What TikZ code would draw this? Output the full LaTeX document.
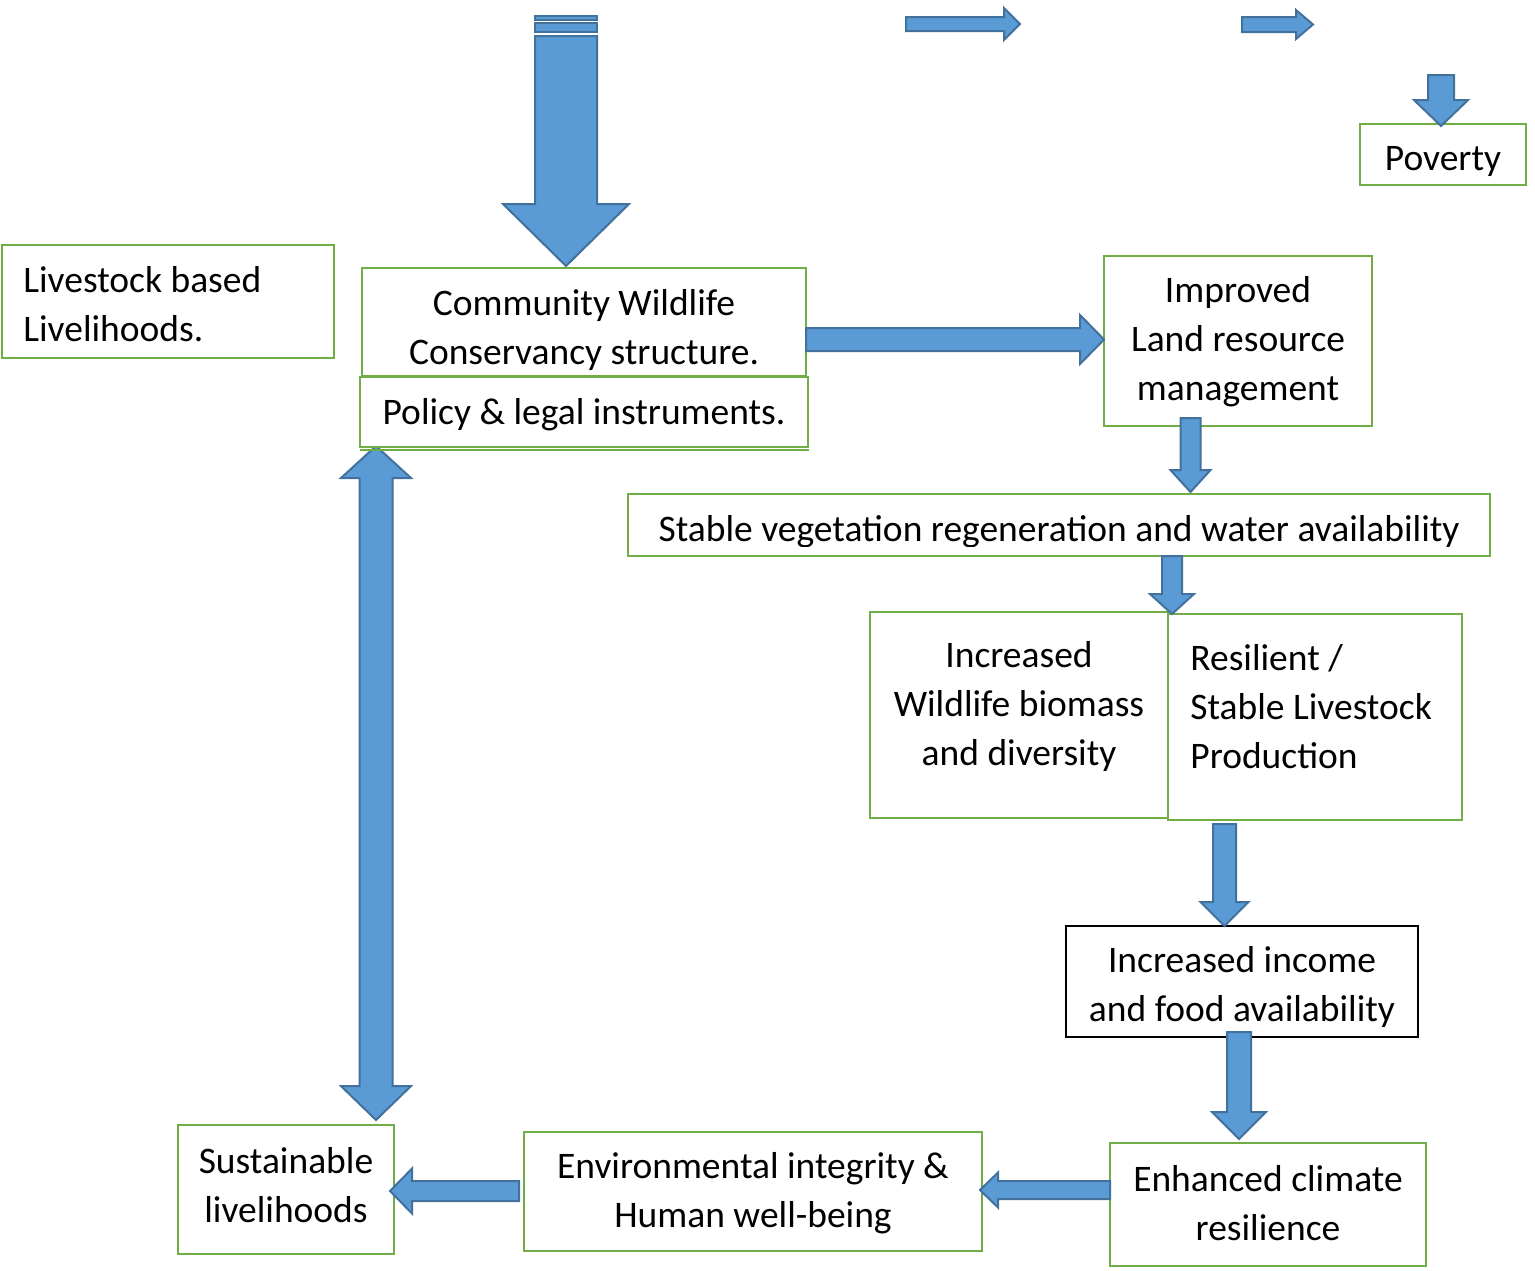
\documentclass[tikz,border=0pt]{standalone}
\usepackage{fontspec}
\setmainfont{Carlito}
\definecolor{afill}{HTML}{5B9BD5}
\definecolor{aline}{HTML}{41719C}
\definecolor{gline}{HTML}{70AD47}
\tikzset{
  gbox/.style={draw=gline, line width=1.25pt, fill=white, inner sep=0pt},
  kbox/.style={draw=black, line width=1pt, fill=white, inner sep=0pt},
  txt/.style={inner sep=0pt, align=center, font=\fontsize{18.75pt}{24.5pt}\selectfont},
  txtl/.style={inner sep=0pt, align=left, font=\fontsize{18.75pt}{24.5pt}\selectfont},
  barrow/.style={fill=afill, draw=aline, line width=1pt, line join=miter}
}
% vertical block arrow: cx, shaft start y, head base y, tip y, half shaft, half head
\newcommand\blkV[6]{\filldraw[barrow] ({#1-#5},{#2}) -- ({#1+#5},{#2}) -- ({#1+#5},{#3}) -- ({#1+#6},{#3}) -- ({#1},{#4}) -- ({#1-#6},{#3}) -- ({#1-#5},{#3}) -- cycle;}
% horizontal block arrow: cy, shaft start x, head base x, tip x, half shaft, half head
\newcommand\blkH[6]{\filldraw[barrow] ({#2},{#1-#5}) -- ({#3},{#1-#5}) -- ({#3},{#1-#6}) -- ({#4},{#1}) -- ({#3},{#1+#6}) -- ({#3},{#1+#5}) -- ({#2},{#1+#5}) -- cycle;}
\begin{document}
\begin{tikzpicture}[x=0.5pt,y=-0.5pt]
\useasboundingbox[fill=white] (0,0) rectangle (1535,1270);

% double vertical arrow (behind boxes)
\filldraw[barrow] (376,446) -- (411,478) -- (392.5,478) -- (392.5,1086) -- (411,1086) -- (376,1120) -- (341,1086) -- (359.5,1086) -- (359.5,478) -- (341,478) -- cycle;

% boxes
\node[gbox, minimum width=166pt, minimum height=56.5pt] (live) at (168,301.5) {};
\node[gbox, minimum width=222pt, minimum height=54pt] (cwc) at (584,322) {};
\node[gbox, minimum width=224pt, minimum height=35pt] (pol) at (584,412) {};
\draw[gline, line width=1pt] ([xshift=0.5pt,yshift=-1pt]pol.south west) -- ([yshift=-1pt]pol.south east);
\node[gbox, minimum width=134pt, minimum height=85pt] (imp) at (1238,341) {};
\node[gbox, minimum width=431pt, minimum height=31pt] (stab) at (1059,525) {};
\node[gbox, minimum width=149pt, minimum height=103pt] (wild) at (1019,715) {};
\node[gbox, minimum width=147pt, minimum height=103pt] (resil) at (1315,717) {};
\node[kbox, minimum width=176pt, minimum height=55.5pt] (inc) at (1242,981.5) {};
\node[gbox, minimum width=158pt, minimum height=61.5pt] (enh) at (1268,1204.5) {};
\node[gbox, minimum width=229pt, minimum height=59.5pt] (env) at (753,1191.5) {};
\node[gbox, minimum width=108pt, minimum height=64.5pt] (sust) at (286,1189.5) {};
\node[gbox, minimum width=83pt, minimum height=30.5pt] (pov) at (1443,154.5) {};

% texts
\node[txtl, anchor=west] (live-t) at (23,304) {Livestock based\\Livelihoods.};
\node[txt] (cwc-t) at (584,330) {Community Wildlife\\Conservancy structure.};
\node[txt] (pol-t) at (584,414.5) {Policy \& legal instruments.};
\node[txt] (imp-t) at (1238,342) {Improved\\Land resource\\management};
\begin{scope}
\clip (630,496) rectangle (1488,546);
\node[txt] (stab-t) at (1059,531.5) {Stable vegetation regeneration and water availability};
\end{scope}
\node[txt] (wild-t) at (1019,706) {Increased\\Wildlife biomass\\and diversity};
\node[txtl, anchor=west] (resil-t) at (1190,707) {Resilient /\\Stable Livestock\\Production};
\node[txt] (inc-t) at (1242,987) {Increased income\\and food availability};
\node[txt] (enh-t) at (1268,1203) {Enhanced climate\\resilience};
\node[txt] (env-t) at (753,1193) {Environmental integrity \&\\Human well-being};
\node[txt] (sust-t) at (286,1185) {Sustainable\\livelihoods};
\node[txt] (pov-t) at (1443,161) {Poverty};

% block arrows
\filldraw[barrow] (535,16) rectangle (597,20);
\filldraw[barrow] (535,23) rectangle (597,32);
\blkV{566}{36}{204}{266}{31}{63}
\blkH{24}{906}{1004}{1020}{7}{16}
\blkH{24.5}{1242}{1296}{1313}{7.5}{14.5}
\blkV{1441}{75}{100}{126}{13}{27}
\blkH{339.5}{806}{1080}{1104}{11.5}{24.5}
\blkV{1190.5}{418}{470}{492}{10}{20}
\blkV{1172}{556}{594}{614}{10}{22}
\blkV{1224.5}{824}{902}{926}{11.5}{24}
\blkV{1239}{1032}{1112}{1139}{12}{27}
\blkH{1190}{1110}{998}{980}{9}{17.5}
\blkH{1191}{519}{412}{390}{10}{22.5}
\end{tikzpicture}
\end{document}
